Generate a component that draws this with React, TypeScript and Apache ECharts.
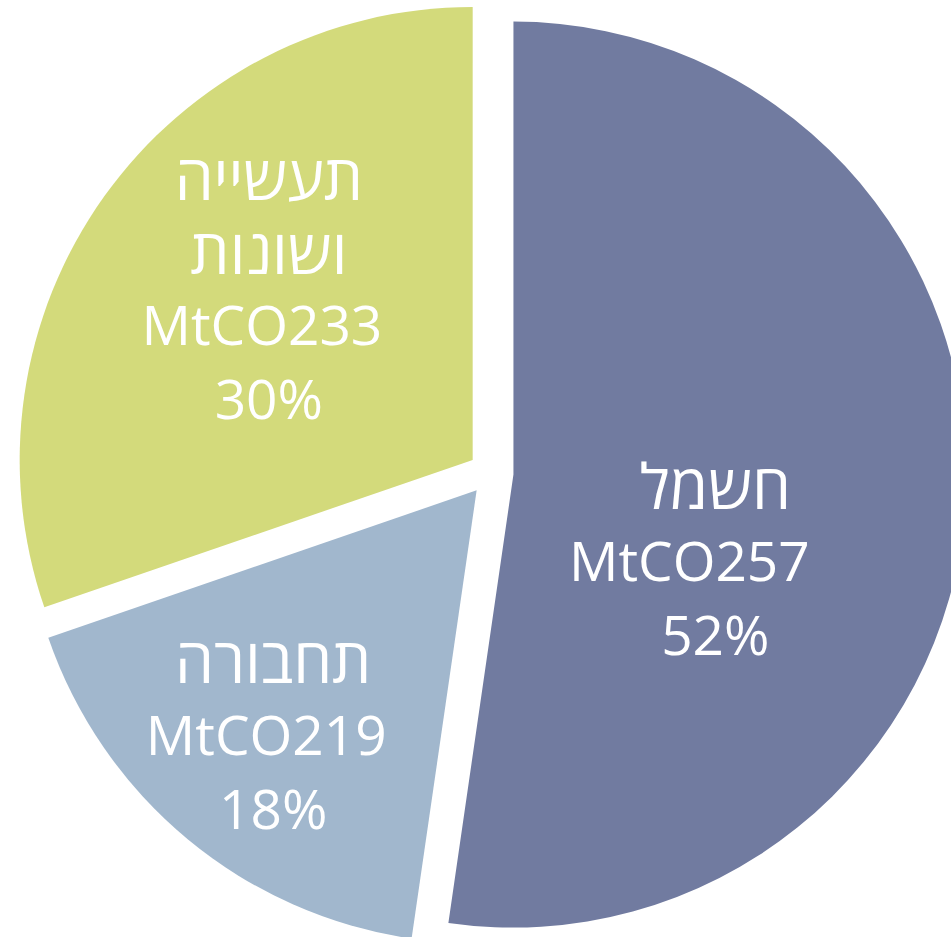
import React, { useEffect, useRef } from "react";
import * as echarts from "echarts";

const categoryNames: string[] = ["חשמל", "תחבורה", "תעשייה\nושונות"];
const emissionValues: number[] = [57, 19, 33];
const valueLabels: string[] = ["MtCO257", "MtCO219", "MtCO233"];
const percentLabels: string[] = ["52%", "18%", "30%"];

const sliceColors = ["#717BA0", "#A1B7CD", "#D3DA7B"];
const labelShifts: number[][] = [
  [-27, 68],
  [-57, 66],
  [-17, -40],
];
const valueLineShift: number[] = [52, 14, 14];

export default function App() {
  const ref = useRef<HTMLDivElement>(null);
  useEffect(() => {
    if (!ref.current) return;
    const chart = echarts.init(ref.current, undefined, { renderer: "svg" });
    const font = "'Open Sans', 'DejaVu Sans', sans-serif";
    const data = emissionValues.map((v, i) => {
      const nameLines = categoryNames[i]
        .split("\n")
        .map((l) => `{h|${l}}`)
        .join("\n");
      return {
        value: v,
        name: categoryNames[i],
        selected: true,
        itemStyle: { color: sliceColors[i] },
        select: { itemStyle: { color: sliceColors[i] } },
        label: {
          show: true,
          position: "inside",
          formatter: `${nameLines}\n{m|${valueLabels[i]}}\n{p|${percentLabels[i]}}`,
          rich: {
            h: { color: "#fff", fontSize: 62, fontFamily: font, lineHeight: 74 },
            m: {
              color: "#fff",
              fontSize: 55,
              fontFamily: font,
              lineHeight: 74,
              padding: [0, valueLineShift[i], 0, 0],
            },
            p: { color: "#fff", fontSize: 55, fontFamily: font, lineHeight: 74 },
          },
        },
      };
    });
    chart.setOption({
      animation: false,
      backgroundColor: "#ffffff",
      series: [
        {
          type: "pie",
          center: [491, 473],
          radius: 453,
          startAngle: 90,
          clockwise: true,
          selectedMode: "multiple",
          selectedOffset: 22.5,
          silent: true,
          avoidLabelOverlap: false,
          labelLine: { show: false },
          itemStyle: { borderWidth: 0 },
          labelLayout: (p: any) => ({
            dx: labelShifts[p.dataIndex][0],
            dy: labelShifts[p.dataIndex][1],
          }),
          data,
        },
      ],
    });
    return () => chart.dispose();
  }, []);
  return (
    <div
      ref={ref}
      style={{ position: "fixed", left: 0, top: 0, width: 951, height: 937 }}
    />
  );
}
